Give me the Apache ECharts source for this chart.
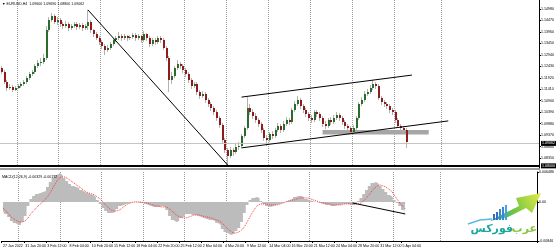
<!DOCTYPE html>
<html><head><meta charset="utf-8">
<script src="https://cdn.jsdelivr.net/npm/echarts@6.0.0/dist/echarts.min.js"></script>
<style>html,body{margin:0;padding:0;background:#fff}#c{width:557px;height:250px}</style>
</head><body><div id="c"></div>
<script>
// ---- data (8-hour bars, EURUSD) ----
const xTickLabels = ["27 Jan 2022","31 Jan 20:00","3 Feb 12:00","8 Feb 04:00","10 Feb 20:00","15 Feb 12:00","18 Feb 04:00","22 Feb 20:00","25 Feb 12:00","2 Mar 04:00","4 Mar 20:00","9 Mar 12:00","14 Mar 04:00","16 Mar 20:00","21 Mar 12:00","24 Mar 04:00","28 Mar 20:00","31 Mar 12:00","5 Apr 04:00"];
const priceTicks = [1.1498,1.1447,1.1396,1.1345,1.1294,1.1243,1.1192,1.1141,1.1090,1.1039,1.0988,1.0937,1.0886,1.0835];
const macdTicks = [0.006486, 0, -0.00846];

const open = [
1.1236,1.1218,1.1173,1.1147,1.1151,1.1138,1.1147,1.1155,1.1164,1.1173,
1.1191,1.1209,1.1218,1.1244,1.1258,1.1262,1.1280,1.1405,1.1449,1.1467,
1.1440,1.1449,1.1431,1.1422,1.1431,1.1414,1.1422,1.1431,1.1418,1.1427,
1.1414,1.1422,1.1440,1.1405,1.1387,1.1369,1.1351,1.1333,1.1316,1.1325,
1.1342,1.1360,1.1369,1.1378,1.1369,1.1378,1.1369,1.1373,1.1382,1.1369,
1.1378,1.1360,1.1387,1.1369,1.1342,1.1360,1.1351,1.1369,1.1360,1.1325,
1.1280,1.1182,1.1200,1.1236,1.1253,1.1244,1.1227,1.1209,1.1182,1.1155,
1.1164,1.1129,1.1111,1.1120,1.1093,1.1075,1.1058,1.1040,1.1013,1.0982,
1.0915,1.0871,1.0844,1.0871,1.0862,1.0884,1.0888,1.0933,1.0969,1.1058,
1.1040,1.1022,1.1004,1.0986,1.0960,1.0924,1.0915,1.0942,1.0933,1.0960,
1.0977,1.0960,1.0986,1.1004,1.0995,1.1049,1.1075,1.1093,1.1066,1.1049,
1.1031,1.1013,1.1004,1.1040,1.1031,1.1013,1.0986,1.0977,1.1004,1.0995,
1.1013,1.1026,1.1013,1.0995,1.0977,1.0969,1.0951,1.0969,1.1013,1.1075,
1.1093,1.1120,1.1129,1.1147,1.1164,1.1155,1.1102,1.1084,1.1075,1.1066,
1.1049,1.1040,1.1004,1.0977,1.0969,1.0960];
const close = [
1.1218,1.1173,1.1147,1.1151,1.1138,1.1147,1.1155,1.1164,1.1173,1.1191,
1.1209,1.1218,1.1244,1.1258,1.1262,1.1280,1.1405,1.1449,1.1467,1.1440,
1.1449,1.1431,1.1422,1.1431,1.1414,1.1422,1.1431,1.1418,1.1427,1.1414,
1.1422,1.1440,1.1405,1.1387,1.1369,1.1351,1.1333,1.1316,1.1325,1.1342,
1.1360,1.1369,1.1378,1.1369,1.1378,1.1369,1.1373,1.1382,1.1369,1.1378,
1.1360,1.1387,1.1369,1.1342,1.1360,1.1351,1.1369,1.1360,1.1325,1.1280,
1.1182,1.1200,1.1236,1.1253,1.1244,1.1227,1.1209,1.1182,1.1155,1.1164,
1.1129,1.1111,1.1120,1.1093,1.1075,1.1058,1.1040,1.1013,1.0982,1.0915,
1.0871,1.0844,1.0871,1.0862,1.0884,1.0888,1.0933,1.0969,1.1058,1.1040,
1.1022,1.1004,1.0986,1.0960,1.0924,1.0915,1.0942,1.0933,1.0960,1.0977,
1.0960,1.0986,1.1004,1.0995,1.1049,1.1075,1.1093,1.1066,1.1049,1.1031,
1.1013,1.1004,1.1040,1.1031,1.1013,1.0986,1.0977,1.1004,1.0995,1.1013,
1.1026,1.1013,1.0995,1.0977,1.0969,1.0951,1.0969,1.1013,1.1075,1.1093,
1.1120,1.1129,1.1147,1.1164,1.1155,1.1102,1.1084,1.1075,1.1066,1.1049,
1.1040,1.1004,1.0977,1.0969,1.0960,1.0906];
const high = [
1.1244,1.1227,1.1182,1.1164,1.1160,1.1155,1.1164,1.1173,1.1182,1.1200,
1.1218,1.1227,1.1253,1.1271,1.1280,1.1298,1.1422,1.1462,1.1480,1.1476,
1.1462,1.1458,1.1440,1.1445,1.1440,1.1431,1.1440,1.1440,1.1436,1.1436,
1.1431,1.1494,1.1449,1.1409,1.1396,1.1378,1.1360,1.1342,1.1338,1.1351,
1.1369,1.1378,1.1396,1.1387,1.1387,1.1382,1.1382,1.1391,1.1391,1.1387,
1.1382,1.1400,1.1391,1.1378,1.1369,1.1369,1.1378,1.1378,1.1369,1.1333,
1.1289,1.1218,1.1244,1.1271,1.1262,1.1253,1.1236,1.1218,1.1191,1.1173,
1.1173,1.1138,1.1133,1.1129,1.1102,1.1084,1.1066,1.1049,1.1022,1.0991,
1.0924,1.0880,1.0884,1.0880,1.0897,1.0906,1.0942,1.0977,1.1106,1.1075,
1.1053,1.1035,1.1013,1.0995,1.0969,1.0937,1.0951,1.0955,1.0969,1.0991,
1.0986,1.1000,1.1017,1.1013,1.1058,1.1089,1.1111,1.1102,1.1075,1.1058,
1.1040,1.1026,1.1049,1.1049,1.1040,1.1022,1.1000,1.1013,1.1017,1.1026,
1.1040,1.1035,1.1022,1.1004,1.0986,1.0977,1.0982,1.1022,1.1084,1.1106,
1.1133,1.1142,1.1160,1.1182,1.1173,1.1164,1.1111,1.1093,1.1084,1.1075,
1.1058,1.1049,1.1013,1.0986,1.0977,1.0969];
const low = [
1.1209,1.1164,1.1133,1.1138,1.1129,1.1133,1.1142,1.1147,1.1155,1.1164,
1.1182,1.1200,1.1209,1.1236,1.1244,1.1253,1.1271,1.1396,1.1440,1.1431,
1.1427,1.1418,1.1409,1.1414,1.1400,1.1405,1.1414,1.1405,1.1409,1.1400,
1.1405,1.1405,1.1391,1.1373,1.1360,1.1338,1.1320,1.1293,1.1307,1.1316,
1.1333,1.1351,1.1360,1.1356,1.1360,1.1356,1.1360,1.1365,1.1356,1.1360,
1.1347,1.1351,1.1356,1.1329,1.1333,1.1338,1.1342,1.1347,1.1316,1.1267,
1.1129,1.1164,1.1191,1.1227,1.1231,1.1213,1.1195,1.1169,1.1142,1.1147,
1.1115,1.1098,1.1102,1.1080,1.1062,1.1044,1.1026,1.1000,1.0969,1.0902,
1.0857,1.0804,1.0835,1.0844,1.0853,1.0871,1.0880,1.0924,1.0960,1.1026,
1.1009,1.0991,1.0973,1.0946,1.0911,1.0888,1.0906,1.0920,1.0924,1.0951,
1.0946,1.0951,1.0977,1.0982,1.0986,1.1040,1.1066,1.1053,1.1035,1.1017,
1.1000,1.0991,1.0995,1.1017,1.1000,1.0973,1.0964,1.0969,1.0982,1.0986,
1.1004,1.1000,1.0982,1.0964,1.0955,1.0942,1.0942,1.0960,1.1004,1.1066,
1.1084,1.1111,1.1120,1.1138,1.1142,1.1093,1.1071,1.1062,1.1053,1.1035,
1.1026,1.0991,1.0969,1.0955,1.0951,1.0880];
const macd = [
-0.00195,-0.00260,-0.00326,-0.00412,-0.00456,-0.00499,-0.00499,-0.00434,-0.00304,-0.00087,
0.00065,0.00130,0.00174,0.00195,0.00217,0.00239,0.00326,0.00434,0.00521,0.00586,
0.00629,0.00586,0.00521,0.00456,0.00391,0.00347,0.00326,0.00304,0.00260,0.00217,
0.00195,0.00174,0.00152,0.00109,0.00043,-0.00043,-0.00130,-0.00195,-0.00239,-0.00239,
-0.00217,-0.00152,-0.00087,-0.00065,-0.00043,-0.00022,-0.00005,-0.00005,-0.00008,-0.00022,
-0.00022,-0.00043,-0.00065,-0.00087,-0.00109,-0.00109,-0.00109,-0.00087,-0.00109,-0.00174,
-0.00304,-0.00391,-0.00434,-0.00412,-0.00347,-0.00304,-0.00260,-0.00260,-0.00282,-0.00282,
-0.00304,-0.00326,-0.00347,-0.00369,-0.00391,-0.00391,-0.00412,-0.00456,-0.00499,-0.00586,
-0.00651,-0.00694,-0.00716,-0.00673,-0.00629,-0.00564,-0.00434,-0.00239,-0.00065,0.00043,
0.00087,0.00109,0.00087,0.00022,-0.00043,-0.00087,-0.00109,-0.00087,-0.00065,-0.00043,
-0.00022,-0.00005,0.00022,0.00043,0.00065,0.00109,0.00130,0.00130,0.00109,0.00065,
0.00043,0.00022,0.00005,-0.00005,-0.00022,-0.00043,-0.00065,-0.00065,-0.00087,-0.00087,
-0.00065,-0.00065,-0.00043,-0.00043,-0.00043,-0.00065,-0.00065,-0.00043,0.00022,0.00087,
0.00174,0.00260,0.00347,0.00412,0.00434,0.00391,0.00347,0.00282,0.00217,0.00152,
0.00109,0.00043,-0.00022,-0.00087,-0.00174,-0.00329];
const signal = [
-0.00130,-0.00195,-0.00260,-0.00326,-0.00369,-0.00412,-0.00434,-0.00434,-0.00412,-0.00347,
-0.00260,-0.00195,-0.00130,-0.00065,-0.00022,0.00043,0.00109,0.00195,0.00304,0.00412,
0.00499,0.00543,0.00543,0.00521,0.00477,0.00434,0.00391,0.00347,0.00304,0.00260,
0.00217,0.00195,0.00174,0.00152,0.00109,0.00065,0.00000,-0.00065,-0.00130,-0.00174,
-0.00195,-0.00195,-0.00174,-0.00130,-0.00087,-0.00043,-0.00022,0.00000,0.00000,0.00000,
-0.00005,-0.00022,-0.00022,-0.00043,-0.00065,-0.00087,-0.00087,-0.00109,-0.00109,-0.00109,
-0.00152,-0.00195,-0.00260,-0.00304,-0.00326,-0.00347,-0.00347,-0.00326,-0.00304,-0.00282,
-0.00282,-0.00282,-0.00304,-0.00326,-0.00326,-0.00347,-0.00369,-0.00391,-0.00412,-0.00456,
-0.00521,-0.00586,-0.00629,-0.00673,-0.00673,-0.00651,-0.00608,-0.00543,-0.00434,-0.00326,
-0.00217,-0.00130,-0.00065,-0.00043,-0.00043,-0.00043,-0.00065,-0.00065,-0.00065,-0.00065,
-0.00043,-0.00022,0.00000,0.00022,0.00043,0.00043,0.00065,0.00087,0.00087,0.00087,
0.00087,0.00065,0.00043,0.00022,0.00000,-0.00022,-0.00022,-0.00043,-0.00043,-0.00065,
-0.00065,-0.00065,-0.00065,-0.00043,-0.00043,-0.00043,-0.00043,-0.00043,-0.00043,-0.00022,
0.00022,0.00087,0.00152,0.00239,0.00304,0.00347,0.00369,0.00347,0.00326,0.00282,
0.00239,0.00152,0.00065,-0.00022,-0.00087,-0.00152];

// drawn objects (bar index, price)
const trendLines = [[[31,1.1494],[81,1.0804]],[[86,1.1106],[147,1.1204]],[[86,1.0880],[160,1.1000]]];
const zone = [[115,1.0960],[153,1.0940]];
const hLinePrice = 1.08000;
const bidPrice = 1.09062;
const macdTrend = [[126,-0.00022],[145,-0.00260]];
const nCats = 193;
const categories = Array.from({length:nCats},(_,i)=>String(i));
const weekLines = new Set([6,21,36,51,66,81,96,111,126,141,158]);

const FONT = 'Liberation Sans';
const FS = 3.6;
const chart = echarts.init(document.getElementById('c'), null, {renderer:'canvas'});

function renderCandle(params, api){
  const i=api.value(0), o=api.value(1), c=api.value(2), l=api.value(3), h=api.value(4);
  const pO=api.coord([i,o]), pC=api.coord([i,c]), pL=api.coord([i,l]), pH=api.coord([i,h]);
  const cx=Math.round(pO[0]-0.5);
  const top=Math.min(pO[1],pC[1]), hg=Math.max(1,Math.abs(pO[1]-pC[1]));
  return {type:'group',children:[
    {type:'line',shape:{x1:cx+0.5,y1:pH[1],x2:cx+0.5,y2:pL[1]},style:{stroke:'#b2b2b2',lineWidth:1}},
    {type:'rect',shape:{x:cx,y:top,width:2,height:hg},style:{fill:c>=o?'#2b6b2b':'#8f1c1c'}}
  ]};
}

const boxLabel = (txt)=>({show:true,position:'end',distance:2,formatter:txt,color:'#fff',backgroundColor:'#000',fontSize:FS,fontFamily:FONT,padding:[0.5,1]});

const option = {
  animation:false,
  backgroundColor:'#fff',
  title:[
    {text:'\u25BC EURUSD,H4  1.09600 1.09690 1.08800 1.09062',left:2,top:2,padding:0,textStyle:{fontSize:FS,fontWeight:'normal',color:'#000',fontFamily:FONT}},
    {text:'MACD(12,26,9) -0.00329 -0.00152',left:2,top:175,padding:0,textStyle:{fontSize:FS,fontWeight:'normal',color:'#000',fontFamily:FONT}}
  ],
  grid:[
    {left:0,right:16,top:0,height:169},
    {left:0,right:16,top:172,height:69}
  ],
  xAxis:[
    {type:'category',gridIndex:0,data:categories,boundaryGap:true,
     axisLine:{show:true,onZero:false,lineStyle:{color:'#a0a0a0',width:2}},axisTick:{show:false},axisLabel:{show:false},
     splitLine:{show:true,interval:(i)=>weekLines.has(i),lineStyle:{color:'#9c9c9c',type:'dotted',width:1}}},
    {type:'category',gridIndex:1,data:categories,boundaryGap:true,
     axisLine:{show:true,onZero:false,lineStyle:{color:'#000',width:1}},
     axisTick:{show:true,length:2,interval:(i)=>i%8===0 && i/8<xTickLabels.length,lineStyle:{color:'#000'}},
     axisLabel:{show:true,interval:7,align:'left',margin:3,fontSize:FS,color:'#000',fontFamily:FONT,
       formatter:(v,idx)=> (xTickLabels[idx/8]!==undefined ? xTickLabels[idx/8] : '')},
     splitLine:{show:true,interval:(i)=>weekLines.has(i),lineStyle:{color:'#9c9c9c',type:'dotted',width:1}}}
  ],
  yAxis:[
    {type:'value',gridIndex:0,position:'right',min:1.078605,max:1.15381,
     axisLine:{show:true,lineStyle:{color:'#000',width:1}},
     axisTick:{show:true,length:2,customValues:priceTicks,lineStyle:{color:'#000'}},
     axisLabel:{show:true,customValues:priceTicks,formatter:(v)=>v.toFixed(5),fontSize:FS,color:'#000',margin:2,fontFamily:FONT},
     splitLine:{show:false}},
    {type:'value',gridIndex:1,position:'right',min:-0.00846,max:0.006486,
     axisLine:{show:true,lineStyle:{color:'#000',width:1}},
     axisTick:{show:true,length:2,customValues:macdTicks,lineStyle:{color:'#000'}},
     axisLabel:{show:true,customValues:macdTicks,showMinLabel:true,showMaxLabel:true,formatter:(v)=> v===0?'0.00':(v>0?v.toFixed(6):v.toFixed(5)),fontSize:FS,color:'#000',margin:2,fontFamily:FONT},
     splitLine:{show:false}}
  ],
  series:[
    {type:'line',xAxisIndex:0,yAxisIndex:0,data:[],z:1,silent:true,
     markArea:{silent:true,itemStyle:{color:'#a6a6a6'},data:[[{coord:zone[0]},{coord:zone[1]}]]}},
    {type:'line',xAxisIndex:0,yAxisIndex:0,data:[],z:1,silent:true,
     markLine:{silent:true,symbol:['none','none'],animation:false,
       data:[{yAxis:bidPrice,lineStyle:{color:'#c4c4c4',width:1,type:'solid'},label:boxLabel(bidPrice.toFixed(5))}]}},
    {type:'custom',xAxisIndex:0,yAxisIndex:0,z:2,renderItem:renderCandle,
     data:open.map((o,i)=>[i,o,close[i],low[i],high[i]]),encode:{x:0,y:[1,2,3,4]}},
    {type:'line',xAxisIndex:0,yAxisIndex:0,data:[],z:3,silent:true,
     markLine:{silent:true,symbol:['none','none'],label:{show:false},lineStyle:{color:'#000',width:1,type:'solid'},
       data:[
         ...trendLines.map(t=>[{coord:t[0]},{coord:t[1]}]),
         {yAxis:hLinePrice,lineStyle:{color:'#000',width:2,type:'solid'},label:boxLabel(hLinePrice.toFixed(5))}
       ]}},
    {type:'line',xAxisIndex:1,yAxisIndex:1,data:macd,step:'middle',symbol:'none',z:1,silent:true,
     lineStyle:{width:0,opacity:0},areaStyle:{color:'#bcbcbc',opacity:1,origin:0}},
    {type:'line',xAxisIndex:1,yAxisIndex:1,data:signal,symbol:'none',z:3,silent:true,
     lineStyle:{color:'#ff3a3a',width:1,type:'dotted'},
     markLine:{silent:true,symbol:['none','none'],label:{show:false},lineStyle:{color:'#000',width:1,type:'solid'},
       data:[[{coord:macdTrend[0]},{coord:macdTrend[1]}]]}}
  ],
  graphic:[
    {type:'polyline',shape:{points:[[468,224],[480,220],[492,219]]},style:{stroke:'#5ab8e8',lineWidth:1.5,fill:null},z:10},
    {type:'rect',shape:{x:493,y:214,width:2,height:6},style:{fill:'#2f6fc4'},z:10},
    {type:'rect',shape:{x:496,y:212,width:2,height:8},style:{fill:'#2f6fc4'},z:10},
    {type:'rect',shape:{x:499,y:209,width:2,height:11},style:{fill:'#3a86d6'},z:10},
    {type:'rect',shape:{x:502,y:207,width:2,height:13},style:{fill:'#3a86d6'},z:10},
    {type:'rect',shape:{x:505,y:205,width:2,height:15},style:{fill:'#4aa0e0'},z:10},
    {type:'polygon',shape:{points:[[490,221],[505,213],[519,206],[516,198],[541,193],[532,213],[526,208],[508,217]]},
     style:{fill:new echarts.graphic.LinearGradient(0,1,1,0,[{offset:0,color:'#16a88f'},{offset:0.5,color:'#7cc83f'},{offset:1,color:'#e5ec4a'}])},z:9},
    {type:'text',style:{text:'\u0639\u0631\u0628',x:537,y:229,align:'right',verticalAlign:'middle',fontSize:11,fontWeight:'bold',fontFamily:'DejaVu Sans',fill:'#86c440'},z:10},
    {type:'text',style:{text:'\u0641\u0648\u0631\u0643\u0633',x:513,y:229,align:'right',verticalAlign:'middle',fontSize:11,fontWeight:'bold',fontFamily:'DejaVu Sans',fill:'#1ea59c'},z:10}
  ]
};
chart.setOption(option);
</script>
</body></html>
